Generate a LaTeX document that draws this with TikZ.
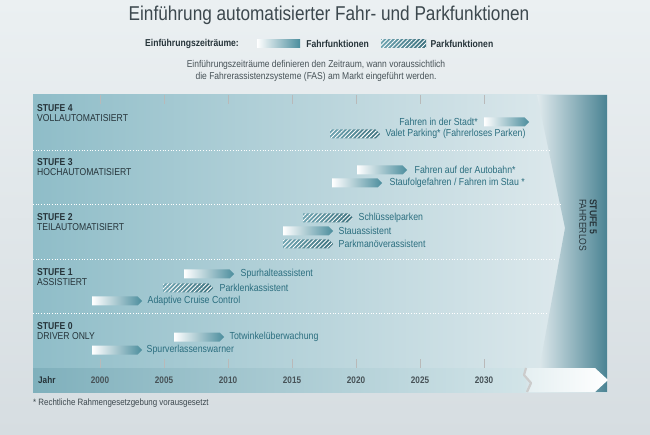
\documentclass[tikz,border=0pt]{standalone}
\usepackage{fontspec}
\setmainfont{Liberation Sans}[FakeStretch=0.86]
\usetikzlibrary{positioning,shapes.symbols,patterns.meta}
\definecolor{bgt}{HTML}{EBF0F2}
\definecolor{bgb}{HTML}{D6DDE1}
\definecolor{pnl}{HTML}{8FBDC8}
\definecolor{pnr}{HTML}{E3ECEF}
\definecolor{dk}{HTML}{4A8393}
\definecolor{bar}{HTML}{4B8D9D}
\definecolor{lab}{HTML}{2B6E7F}
\definecolor{yrl}{HTML}{7FB0BC}
\definecolor{yrr}{HTML}{D2E4E8}
\definecolor{txt}{HTML}{26343A}

\begin{document}
\begin{tikzpicture}[x=1pt,y=-1pt,
    fbar/.style={signal,signal to=east,inner sep=0pt,minimum width=50pt,minimum height=9pt,anchor=west,left color=white,right color=bar},
    pbar/.style={signal,signal to=east,inner sep=0pt,minimum width=50pt,minimum height=9pt,anchor=west,preaction={left color=bar!80,right color=bar!80!black},pattern={Lines[angle=45,distance=3pt,line width=0.9pt]},pattern color=white},
    lbl/.style={font=\fontsize{10.2}{11}\selectfont,text=lab,inner sep=0pt},
    stufe/.style={font=\fontsize{10}{10.5}\selectfont,text=txt,align=left,anchor=north west,inner sep=0pt},
    yr/.style={font=\fontsize{9.5}{10}\selectfont\bfseries,text=txt!85,inner sep=0pt},
    tick/.style={draw=gray!55,line width=0.6pt},
    sep/.style={draw=white,line width=0.7pt,dotted},
]
\useasboundingbox (0,0) rectangle (650,435);
\shade[top color=bgt,bottom color=bgb] (0,0) rectangle (650,435);

% Header
\node[font=\fontsize{20}{22}\selectfont,text=txt!90] (title) at (329,15) {Einführung automatisierter Fahr- und Parkfunktionen};
\node[font=\fontsize{10}{11}\selectfont\bfseries,text=txt,anchor=west,inner sep=0pt] (leg) at (145,44) {Einführungszeiträume:};
\node[rectangle,inner sep=0pt,minimum width=43pt,minimum height=8pt,left color=white,right color=bar] (legf) at (278.5,44) {};
\node[font=\fontsize{10}{11}\selectfont\bfseries,text=txt,inner sep=0pt,right=6pt of legf] (legft) {Fahrfunktionen};
\node[rectangle,inner sep=0pt,minimum width=45pt,minimum height=8pt,preaction={left color=bar!80,right color=bar!80!black},pattern={Lines[angle=45,distance=3pt,line width=0.9pt]},pattern color=white] (legp) at (403.5,44) {};
\node[font=\fontsize{10}{11}\selectfont\bfseries,text=txt,inner sep=0pt,right=4pt of legp] (legpt) {Parkfunktionen};
\node[font=\fontsize{9.9}{12.5}\selectfont,text=txt!85,align=center] (note) at (316,71) {Einführungszeiträume definieren den Zeitraum, wann voraussichtlich\\die Fahrerassistenzsysteme (FAS) am Markt eingeführt werden.};

% Chart panel
\shade[left color=pnl,right color=pnr] (33,95) rectangle (607,392);
\shade[left color=pnr!95!white,right color=dk] (537,95) -- (565,228) -- (535,392) -- (607,392) -- (607,95) -- cycle;
\draw[sep] (33,150) -- (549,150);
\draw[sep] (33,204) -- (560,204);
\draw[sep] (33,259) -- (556,259);
\draw[sep] (33,313) -- (548,313);

% Ticks
\draw[tick] (100,95) -- ++(0,9) (100,359) -- ++(0,9);
\draw[tick] (164,95) -- ++(0,9) (164,359) -- ++(0,9);
\draw[tick] (228,95) -- ++(0,9) (228,359) -- ++(0,9);
\draw[tick] (292,95) -- ++(0,9) (292,359) -- ++(0,9);
\draw[tick] (356,95) -- ++(0,9) (356,359) -- ++(0,9);
\draw[tick] (420,95) -- ++(0,9) (420,359) -- ++(0,9);
\draw[tick] (484,95) -- ++(0,9) (484,359) -- ++(0,9);

% Year axis
\shade[left color=yrl,right color=yrr] (33,368) rectangle (526,392);
\shade[left color=yrr!60!white,right color=white] (526,368) -- (595,368) -- (608,380) -- (595,392) -- (527,392) -- (531,383) -- (524,375) -- cycle;
\draw[gray!40,line width=2.2pt,line join=bevel] (526,368) -- (524,375) -- (531,383) -- (527,392);
\node[yr,text=txt,anchor=west] (jahr) at (38,380) {Jahr};
\node[yr] (y2000) at (100,380) {2000};
\node[yr] (y2005) at (164,380) {2005};
\node[yr] (y2010) at (228,380) {2010};
\node[yr] (y2015) at (292,380) {2015};
\node[yr] (y2020) at (356,380) {2020};
\node[yr] (y2025) at (420,380) {2025};
\node[yr] (y2030) at (484,380) {2030};

% Levels
\node[stufe] (s4) at (37,104) {\textbf{STUFE 4}\\VOLLAUTOMATISIERT};
\node[stufe] (s3) at (37,158) {\textbf{STUFE 3}\\HOCHAUTOMATISIERT};
\node[stufe] (s2) at (37,213) {\textbf{STUFE 2}\\TEILAUTOMATISIERT};
\node[stufe] (s1) at (37,268) {\textbf{STUFE 1}\\ASSISTIERT};
\node[stufe] (s0) at (37,322) {\textbf{STUFE 0}\\DRIVER ONLY};
\node[stufe,rotate=-90] (s5) at (597,199) {\textbf{STUFE 5}\\FAHRERLOS};

% Stufe 4
\node[fbar,minimum width=45pt] (stadt) at (484,122) {};
\node[lbl,left=6pt of stadt] (stadtl) {Fahren in der Stadt*};
\node[pbar] (valet) at (330,134) {};
\node[lbl,right=5pt of valet] (valetl) {Valet Parking* (Fahrerloses Parken)};

% Stufe 3
\node[fbar] (autob) at (357,170) {};
\node[lbl,right=7pt of autob] (autobl) {Fahren auf der Autobahn*};
\node[fbar] (stau) at (332,183) {};
\node[lbl,right=7pt of stau] (staul) {Staufolgefahren / Fahren im Stau *};

% Stufe 2
\node[pbar] (schl) at (303,218) {};
\node[lbl,right=5pt of schl] (schll) {Schlüsselparken};
\node[fbar] (staua) at (283,231) {};
\node[lbl,right=5pt of staua] (staual) {Stauassistent};
\node[pbar] (parkm) at (283,244) {};
\node[lbl,right=5pt of parkm] (parkml) {Parkmanöverassistent};

% Stufe 1
\node[fbar] (spurh) at (184,274) {};
\node[lbl,right=6pt of spurh] (spurhl) {Spurhalteassistent};
\node[pbar] (parkl) at (163,288) {};
\node[lbl,right=6pt of parkl] (parkll) {Parklenkassistent};
\node[fbar] (acc) at (92,301) {};
\node[lbl,right=5pt of acc] (accl) {Adaptive Cruise Control};

% Stufe 0
\node[fbar] (totw) at (174,337) {};
\node[lbl,right=5pt of totw] (totwl) {Totwinkelüberwachung};
\node[fbar] (spurv) at (92,350) {};
\node[lbl,right=4pt of spurv] (spurvl) {Spurverlassenswarner};

% Footnote
\node[font=\fontsize{9.2}{10}\selectfont,text=txt!90,anchor=west,inner sep=0pt] (fn) at (33,403) {* Rechtliche Rahmengesetzgebung vorausgesetzt};
\end{tikzpicture}
\end{document}
